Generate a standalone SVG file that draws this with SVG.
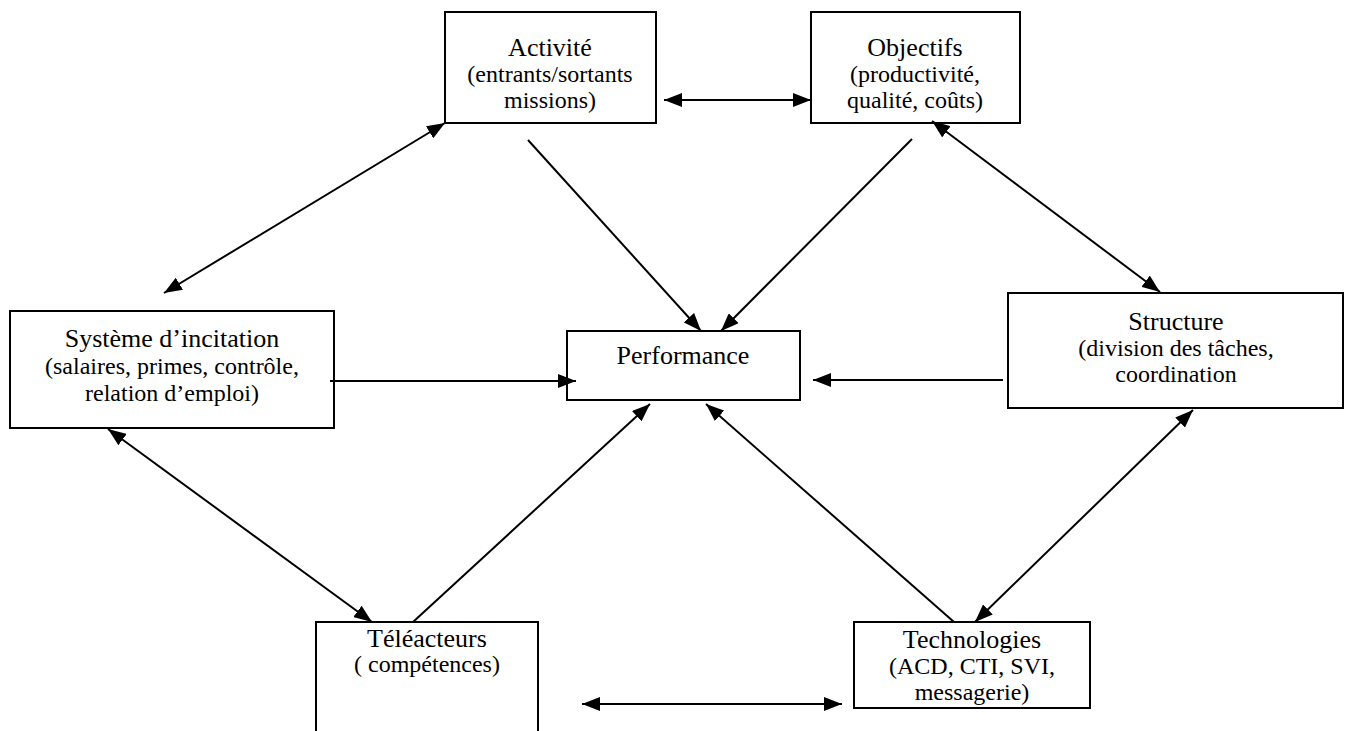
<svg xmlns="http://www.w3.org/2000/svg" width="1352" height="731" viewBox="0 0 1352 731">
<defs>
<marker id="ah" viewBox="0 0 18 14" refX="18" refY="7" markerWidth="18" markerHeight="14" markerUnits="userSpaceOnUse" orient="auto-start-reverse">
<path d="M0,0 L18,7 L0,14 z" fill="#000"/>
</marker>
<style>
.box{fill:#fff;stroke:#000;stroke-width:2}
.t{font-size:26px;text-anchor:middle;fill:#000}
.s{font-size:24px;text-anchor:middle;fill:#000}
.c line{stroke:#000;stroke-width:2}
.one{marker-end:url(#ah)}
.two{marker-start:url(#ah);marker-end:url(#ah)}
</style>
</defs>
<rect width="1352" height="731" fill="#fff"/>
<g font-family="Liberation Serif, Tinos, Times New Roman, Times, DejaVu Serif, serif">
<g id="activite">
<rect class="box" x="445" y="12" width="211" height="111"/>
<text class="t" x="550" y="56">Activité</text>
<text class="s" x="550" y="82">(entrants/sortants</text>
<text class="s" x="550" y="108">missions)</text>
</g>
<g id="objectifs">
<rect class="box" x="811" y="12" width="209" height="111"/>
<text class="t" x="915" y="56">Objectifs</text>
<text class="s" x="915" y="82">(productivité,</text>
<text class="s" x="915" y="108">qualité, coûts)</text>
</g>
<g id="systeme">
<rect class="box" x="10" y="311" width="324" height="117"/>
<text class="t" x="172" y="347">Système d’incitation</text>
<text class="s" x="172" y="374">(salaires, primes, contrôle,</text>
<text class="s" x="172" y="401">relation d’emploi)</text>
</g>
<g id="structure">
<rect class="box" x="1008" y="293" width="335" height="115"/>
<text class="t" x="1176" y="330">Structure</text>
<text class="s" x="1176" y="356">(division des tâches,</text>
<text class="s" x="1176" y="382">coordination</text>
</g>
<g id="performance">
<rect class="box" x="567" y="331" width="233" height="69"/>
<text class="t" x="683" y="364">Performance</text>
</g>
<g id="teleacteurs">
<rect class="box" x="316" y="622" width="222" height="130"/>
<text class="t" x="427" y="647">Téléacteurs</text>
<text class="s" x="427" y="672">( compétences)</text>
</g>
<g id="technologies">
<text class="t" x="972" y="648">Technologies</text>
<text class="s" x="972" y="674">(ACD, CTI, SVI,</text>
<text class="s" x="972" y="700">messagerie)</text>
<rect x="854" y="622" width="236" height="86" fill="none" stroke="#000" stroke-width="2"/>
</g>
</g>
<g id="connectors" class="c">
<line class="two" x1="664" y1="100" x2="811" y2="100"/>
<line class="one" x1="528" y1="140" x2="701" y2="331"/>
<line class="one" x1="912" y1="139" x2="721" y2="331"/>
<line class="two" x1="445" y1="123" x2="164" y2="293"/>
<line class="two" x1="932" y1="121" x2="1160" y2="292"/>
<line class="one" x1="330" y1="381" x2="576" y2="381"/>
<line class="one" x1="1003" y1="380" x2="813" y2="380"/>
<line class="two" x1="108" y1="429" x2="372" y2="622"/>
<line class="one" x1="413" y1="622" x2="650" y2="404"/>
<line class="one" x1="954" y1="622" x2="706" y2="404"/>
<line class="two" x1="1193" y1="410" x2="975" y2="622"/>
<line class="two" x1="582" y1="704" x2="842" y2="704"/>
</g>
</svg>
